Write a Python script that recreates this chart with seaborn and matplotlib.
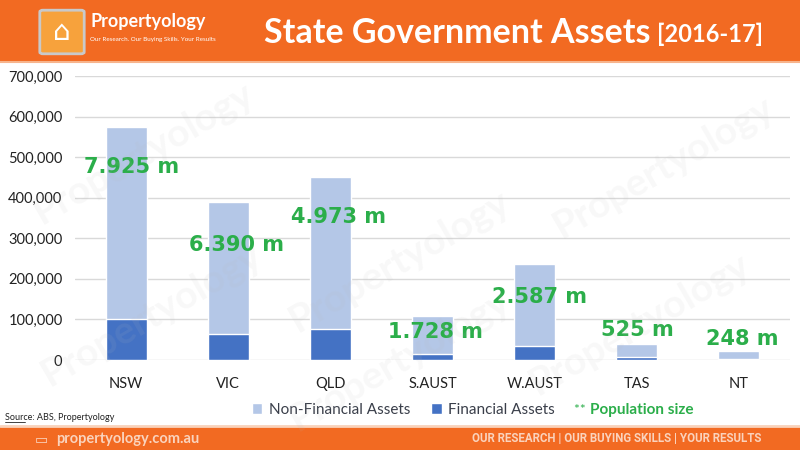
import matplotlib
matplotlib.use("Agg")
import matplotlib.pyplot as plt
import seaborn as sns
import pandas as pd
from matplotlib.patches import Rectangle, FancyBboxPatch
from matplotlib.lines import Line2D
from matplotlib.ticker import FuncFormatter

# ---- data ----
states = ["NSW", "VIC", "QLD", "S.AUST", "W.AUST", "TAS", "NT"]
financial = [101000, 64000, 76000, 15000, 34000, 7000, 2500]
non_financial = [473000, 325000, 375000, 93000, 202000, 32000, 19500]
population = ["7.925 m", "6.390 m", "4.973 m", "1.728 m", "2.587 m", "525 m", "248 m"]
pop_label_y = [475000, 283000, 352000, 69000, 155000, 74000, 52000]
pop_label_dx = [0.05, 0.08, 0.08, 0.03, 0.05, 0.01, 0.03]

df = pd.DataFrame({"State": states, "Financial": financial, "NonFinancial": non_financial})
df["Total"] = df["Financial"] + df["NonFinancial"]

ORANGE = "#F26A22"
LIGHT = "#B4C7E7"
DARK = "#4472C4"
GREEN = "#2BAE4A"
TXT = "#3A3F4A"
PEACH = "#FAD3BD"

sns.set_theme(style="white")
plt.rcParams["font.family"] = ["Lato", "DejaVu Sans"]

fig = plt.figure(figsize=(8, 4.5), dpi=100)
ax = fig.add_axes([75 / 800, 90 / 450, 715 / 800, 284 / 450])

# stacked bars: total in light, financial part drawn over it
sns.barplot(data=df, x="State", y="Total", color=LIGHT, width=0.4, saturation=1, ax=ax, zorder=3)
sns.barplot(data=df, x="State", y="Financial", color=DARK, width=0.4, saturation=1, ax=ax, zorder=4)

ax.set_ylim(0, 700000)
ax.set_xlim(-0.5, 6.5)
ax.set_yticks(range(0, 700001, 100000))
ax.yaxis.set_major_formatter(FuncFormatter(lambda v, p: f"{int(v):,}"))
ax.grid(axis="y", color="#D9D9D9", linewidth=1, zorder=0)
ax.set_axisbelow(True)
for s in ax.spines.values():
    s.set_visible(False)
ax.set_xlabel("")
ax.set_ylabel("")
ax.tick_params(axis="y", labelsize=10.5, colors="#222222", length=0, pad=9)
ax.tick_params(axis="x", labelsize=10.5, colors="#222222", length=0, pad=12)

# population labels
for i, (lab, yv, dx) in enumerate(zip(population, pop_label_y, pop_label_dx)):
    ax.text(i + dx, yv, lab, ha="center", va="center", color=GREEN,
            fontsize=15, fontweight="bold", family=["DejaVu Sans"], zorder=6)

# faint watermarks
for (wx, wy) in [(0.18, 0.66), (0.19, 0.3), (0.5, 0.42), (0.83, 0.63), (0.5, 0.2), (0.8, 0.28)]:
    fig.text(wx, wy, "Propertyology", rotation=30, ha="center", va="center",
             fontsize=28, fontweight="bold", color="#BBBBBB", alpha=0.1, zorder=10)

# header band
fig.add_artist(Rectangle((0, 1 - 61 / 450), 1, 61 / 450, transform=fig.transFigure,
                         facecolor=ORANGE, edgecolor="none", zorder=1))
fig.add_artist(Line2D([0, 1], [1 - 62 / 450] * 2, transform=fig.transFigure, color="#F7B48C", lw=1.5))
fig.add_artist(FancyBboxPatch((43 / 800, 1 - 52 / 450), 38 / 800, 40 / 450,
                              boxstyle="round,pad=0.004", transform=fig.transFigure,
                              facecolor="#F7A23C", edgecolor="#C9C9C9", lw=2, zorder=2))
fig.text(62 / 800, 1 - 32 / 450, "⌂", ha="center", va="center", color="white",
         fontsize=20, family=["DejaVu Sans"], zorder=3)
fig.text(90 / 800, 1 - 22 / 450, "Propertyology", ha="left", va="center", color="white",
         fontsize=13, fontweight="bold", zorder=3)
fig.text(90 / 800, 1 - 40 / 450, "Our Research. Our Buying Skills. Your Results", ha="left",
         va="center", color="white", fontsize=4.5, zorder=3)
fig.text(264 / 800, 1 - 33 / 450, "State Government Assets", ha="left", va="center",
         color="white", fontsize=24.5, fontweight="bold", zorder=3)
fig.text(657 / 800, 1 - 34 / 450, "[2016-17]", ha="left", va="center",
         color="white", fontsize=17, fontweight="bold", zorder=3)

# legend row
handles = [Rectangle((0, 0), 1, 1, facecolor=LIGHT), Rectangle((0, 0), 1, 1, facecolor=DARK)]
fig.legend(handles, ["Non-Financial Assets", "Financial Assets"], loc="center left",
           bbox_to_anchor=(238 / 800, 1 - 410 / 450), ncol=2, frameon=False,
           fontsize=11, handlelength=0.7, handleheight=0.7, handletextpad=0.4,
           columnspacing=1.4, labelcolor=TXT)
fig.text(574 / 800, 1 - 410 / 450, "** ", ha="left", va="center", color=GREEN, fontsize=10)
fig.text(590 / 800, 1 - 410 / 450, "Population size", ha="left", va="center", color=GREEN,
         fontsize=11, fontweight="bold")

# source
fig.text(5 / 800, 1 - 418 / 450, "Source: ABS, Propertyology", ha="left", va="center",
         color="#222222", fontsize=6.5)
fig.add_artist(Line2D([5 / 800, 25 / 800], [1 - 422 / 450] * 2, transform=fig.transFigure,
                      color="#222222", lw=0.6))

# footer band
fig.add_artist(Line2D([0, 1], [1 - 426 / 450] * 2, transform=fig.transFigure, color="#F9D2BA", lw=2))
fig.add_artist(Rectangle((0, 0), 1, 23 / 450, transform=fig.transFigure,
                         facecolor=ORANGE, edgecolor="none", zorder=1))
fig.text(35 / 800, 11 / 450, "\u25AD", ha="left", va="center", color=PEACH,
         fontsize=10, family=["DejaVu Sans"], zorder=3)
fig.text(56 / 800, 11 / 450, "propertyology.com.au", ha="left", va="center",
         color=PEACH, fontsize=10.5, fontweight="bold", zorder=3)
fig.text(761 / 800, 11 / 450, "OUR RESEARCH | OUR BUYING SKILLS | YOUR RESULTS", ha="right",
         va="center", color=PEACH, fontsize=8.3, fontweight="bold",
         family=["Liberation Sans Narrow", "Roboto", "DejaVu Sans"], zorder=3)

fig.savefig("out.png", dpi=100)
